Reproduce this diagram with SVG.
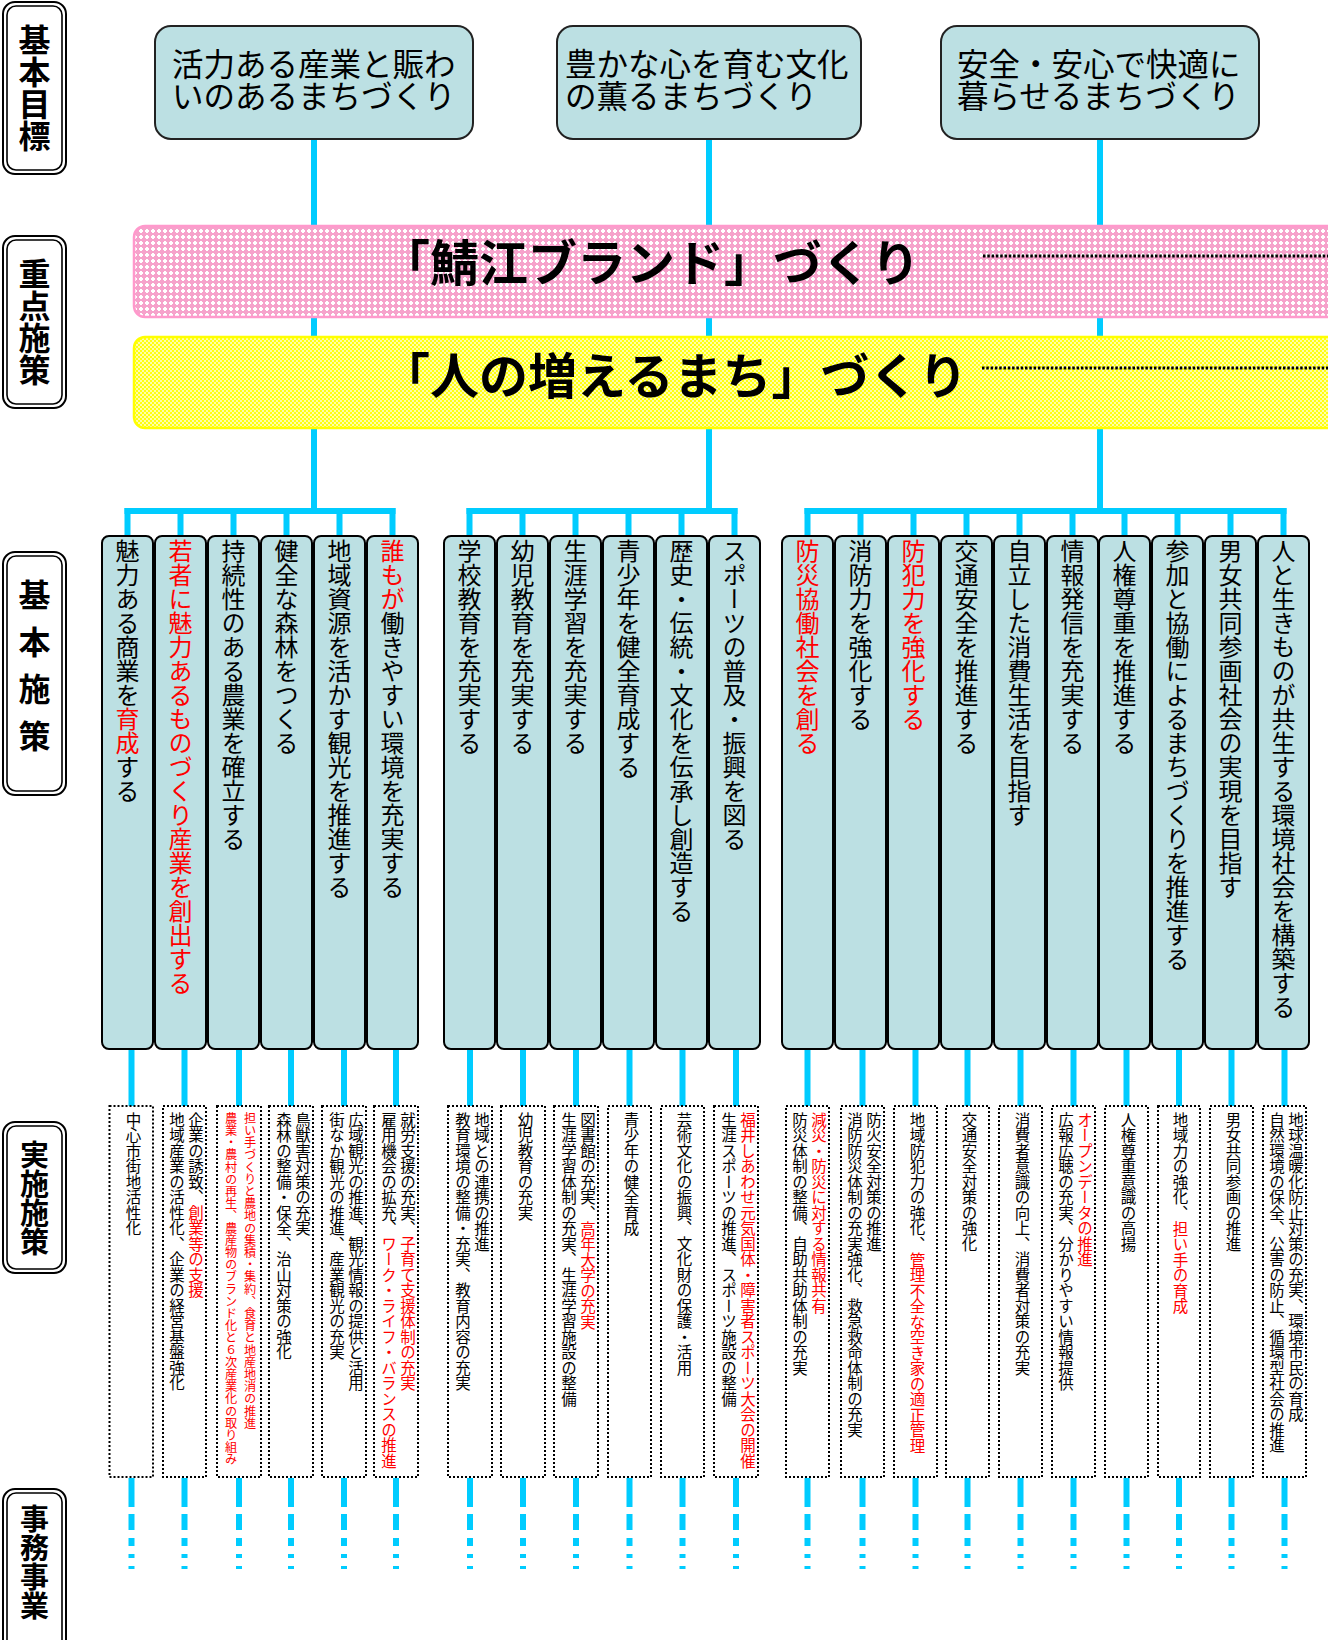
<svg xmlns="http://www.w3.org/2000/svg" width="1328" height="1640" viewBox="0 0 1328 1640">
<defs>
<pattern id="pk" width="6" height="6" patternUnits="userSpaceOnUse">
<rect width="6" height="6" fill="#F6A2CB"/>
<rect x="2" y="1" width="2" height="4" fill="#FFFFFF"/>
<rect x="1" y="2" width="4" height="2" fill="#FFFFFF"/>
</pattern>
<pattern id="yl" width="4" height="4" patternUnits="userSpaceOnUse">
<rect width="4" height="4" fill="#FFFF10"/>
<rect width="2" height="2" fill="#FFFFA8"/>
<rect x="2" y="2" width="2" height="2" fill="#FFFFA8"/>
</pattern>
</defs>
<style>
text{font-family:"Noto Sans CJK JP","Noto Sans CJK SC",sans-serif;fill:#000}
.v{writing-mode:vertical-rl}
.lab rect.o{fill:#fff;stroke:#000;stroke-width:2}
.lab rect.i{fill:none;stroke:#000;stroke-width:1.6}
.lab text{font-size:32px;font-weight:bold}
.goal rect{fill:#BCE0E3;stroke:#222;stroke-width:2}
.goal text{font-size:31.5px}
.col rect{fill:#BCE0E3;stroke:#000;stroke-width:2}
.col text{font-size:24px}
.mea rect{fill:none;stroke:#000;stroke-width:2;stroke-dasharray:2 2}
.mea text{font-size:15.5px}
.mea text.s{font-size:12.2px}
.r{fill:#FF0000}
.band text{font-size:49px;font-weight:bold}
.cn line,.cn path{stroke:#00CCFF;stroke-width:6;fill:none}
.cn line.d{stroke-dasharray:29 7 16 8 8 8 4 8 3 60}
.dots{stroke:#000;stroke-width:3;stroke-dasharray:2.5 1.8}
</style>
<rect width="1328" height="1640" fill="#fff"/>

<g id="connectors" class="cn">
<line x1="314" y1="139" x2="314" y2="514"/>
<line x1="709" y1="139" x2="709" y2="514"/>
<line x1="1100" y1="139" x2="1100" y2="514"/>
<line x1="124.5" y1="511" x2="395.5" y2="511"/>
<line x1="466.5" y1="511" x2="737.5" y2="511"/>
<line x1="804.5" y1="511" x2="1286.5" y2="511"/>
<path d="M127.5 508V537M180.5 508V537M233.5 508V537M286.5 508V537M339.5 508V537M392.5 508V537M469.5 508V537M522.5 508V537M575.5 508V537M628.5 508V537M681.5 508V537M734.5 508V537M807.5 508V537M860.5 508V537M913.5 508V537M966.5 508V537M1019.5 508V537M1072.5 508V537M1124.5 508V537M1177.5 508V537M1230.5 508V537M1283.5 508V537"/>
<path d="M131.5 1049V1106M184.5 1049V1106M239 1049V1106M291 1049V1106M344 1049V1106M396 1049V1106M470 1049V1106M523 1049V1106M576 1049V1106M629.5 1049V1106M682.5 1049V1106M736 1049V1106M807.5 1049V1106M862.5 1049V1106M915.5 1049V1106M967.5 1049V1106M1020.5 1049V1106M1073.5 1049V1106M1126.5 1049V1106M1179 1049V1106M1231.5 1049V1106M1284.5 1049V1106"/>
<line class="d" x1="131.5" y1="1478" x2="131.5" y2="1570"/>
<line class="d" x1="184.5" y1="1478" x2="184.5" y2="1570"/>
<line class="d" x1="239" y1="1478" x2="239" y2="1570"/>
<line class="d" x1="291" y1="1478" x2="291" y2="1570"/>
<line class="d" x1="344" y1="1478" x2="344" y2="1570"/>
<line class="d" x1="396" y1="1478" x2="396" y2="1570"/>
<line class="d" x1="470" y1="1478" x2="470" y2="1570"/>
<line class="d" x1="523" y1="1478" x2="523" y2="1570"/>
<line class="d" x1="576" y1="1478" x2="576" y2="1570"/>
<line class="d" x1="629.5" y1="1478" x2="629.5" y2="1570"/>
<line class="d" x1="682.5" y1="1478" x2="682.5" y2="1570"/>
<line class="d" x1="736" y1="1478" x2="736" y2="1570"/>
<line class="d" x1="807.5" y1="1478" x2="807.5" y2="1570"/>
<line class="d" x1="862.5" y1="1478" x2="862.5" y2="1570"/>
<line class="d" x1="915.5" y1="1478" x2="915.5" y2="1570"/>
<line class="d" x1="967.5" y1="1478" x2="967.5" y2="1570"/>
<line class="d" x1="1020.5" y1="1478" x2="1020.5" y2="1570"/>
<line class="d" x1="1073.5" y1="1478" x2="1073.5" y2="1570"/>
<line class="d" x1="1126.5" y1="1478" x2="1126.5" y2="1570"/>
<line class="d" x1="1179" y1="1478" x2="1179" y2="1570"/>
<line class="d" x1="1231.5" y1="1478" x2="1231.5" y2="1570"/>
<line class="d" x1="1284.5" y1="1478" x2="1284.5" y2="1570"/>
</g>

<g class="lab">
<g id="lab-goal"><rect class="o" x="3" y="2" width="63" height="172" rx="12"/><rect class="i" x="7" y="6" width="55" height="164" rx="9"/><text class="v" x="34.5" y="88" text-anchor="middle">基本目標</text></g>
<g id="lab-focus"><rect class="o" x="3" y="236" width="63" height="172" rx="12"/><rect class="i" x="7" y="240" width="55" height="164" rx="9"/><text class="v" x="34.5" y="322" text-anchor="middle">重点施策</text></g>
<g id="lab-basic"><rect class="o" x="3" y="552" width="63" height="243" rx="12"/><rect class="i" x="7" y="556" width="55" height="235" rx="9"/><text class="v" x="34.5" y="673" text-anchor="middle" letter-spacing="15">基本施策</text></g>
<g id="lab-impl"><rect class="o" x="3" y="1122" width="63" height="151" rx="12"/><rect class="i" x="7" y="1126" width="55" height="143" rx="9"/><text class="v" x="34.5" y="1198" text-anchor="middle" style="font-size:29px">実施施策</text></g>
<g id="lab-work"><rect class="o" x="3" y="1489" width="63" height="180" rx="12"/><rect class="i" x="7" y="1493" width="55" height="172" rx="9"/><text class="v" x="34.5" y="1562" text-anchor="middle" style="font-size:29px">事務事業</text></g>
</g>

<g class="goal">
<g id="goal-1"><rect x="155" y="26" width="318" height="113" rx="16"/><text><tspan x="172" y="76">活力ある産業と賑わ</tspan><tspan x="172" y="108">いのあるまちづくり</tspan></text></g>
<g id="goal-2"><rect x="557" y="26" width="304" height="113" rx="16"/><text><tspan x="565" y="76">豊かな心を育む文化</tspan><tspan x="565" y="108">の薫るまちづくり</tspan></text></g>
<g id="goal-3"><rect x="941" y="26" width="318" height="113" rx="16"/><text><tspan x="957" y="76">安全・安心で快適に</tspan><tspan x="957" y="108">暮らせるまちづくり</tspan></text></g>
</g>

<g class="band">
<g id="band-sabae"><rect x="134" y="226" width="1220" height="91" rx="11" fill="url(#pk)" stroke="#FF99CC" stroke-width="2.5"/><text x="381" y="281">「鯖江ブランド」づくり</text><line class="dots" x1="983" y1="256" x2="1328" y2="256"/></g>
<g id="band-people"><rect x="134" y="337" width="1220" height="91" rx="11" fill="url(#yl)" stroke="#FFFF00" stroke-width="2.5"/><text x="381" y="394">「人の増えるまち」づくり</text><line class="dots" x1="982" y1="368" x2="1328" y2="368"/></g>
</g>

<g class="col">
<g id="c1"><rect x="102" y="536" width="51" height="513" rx="7"/><text class="v" x="127.5" y="539">魅力ある商業を<tspan class="r">育成</tspan>する</text></g>
<g id="c2"><rect x="155" y="536" width="51" height="513" rx="7"/><text class="v r" x="180.5" y="539">若者に魅力あるものづくり産業を創出する</text></g>
<g id="c3"><rect x="208" y="536" width="51" height="513" rx="7"/><text class="v" x="233.5" y="539">持続性のある農業を確立する</text></g>
<g id="c4"><rect x="261" y="536" width="51" height="513" rx="7"/><text class="v" x="286.5" y="539">健全な森林をつくる</text></g>
<g id="c5"><rect x="314" y="536" width="51" height="513" rx="7"/><text class="v" x="339.5" y="539">地域資源を活かす観光を推進する</text></g>
<g id="c6"><rect x="367" y="536" width="51" height="513" rx="7"/><text class="v" x="392.5" y="539"><tspan class="r">誰もが</tspan>働きやすい環境を充実する</text></g>
<g id="c7"><rect x="444" y="536" width="51" height="513" rx="7"/><text class="v" x="469.5" y="539">学校教育を充実する</text></g>
<g id="c8"><rect x="497" y="536" width="51" height="513" rx="7"/><text class="v" x="522.5" y="539">幼児教育を充実する</text></g>
<g id="c9"><rect x="550" y="536" width="51" height="513" rx="7"/><text class="v" x="575.5" y="539">生涯学習を充実する</text></g>
<g id="c10"><rect x="603" y="536" width="51" height="513" rx="7"/><text class="v" x="628.5" y="539">青少年を健全育成する</text></g>
<g id="c11"><rect x="656" y="536" width="51" height="513" rx="7"/><text class="v" x="681.5" y="539">歴史・伝統・文化を伝承し創造する</text></g>
<g id="c12"><rect x="709" y="536" width="51" height="513" rx="7"/><text class="v" x="734.5" y="539">スポーツの普及・振興を図る</text></g>
<g id="c13"><rect x="782" y="536" width="51" height="513" rx="7"/><text class="v r" x="807.5" y="539">防災協働社会を創る</text></g>
<g id="c14"><rect x="835" y="536" width="51" height="513" rx="7"/><text class="v" x="860.5" y="539">消防力を強化する</text></g>
<g id="c15"><rect x="888" y="536" width="51" height="513" rx="7"/><text class="v r" x="913.5" y="539">防犯力を強化する</text></g>
<g id="c16"><rect x="941" y="536" width="51" height="513" rx="7"/><text class="v" x="966.5" y="539">交通安全を推進する</text></g>
<g id="c17"><rect x="994" y="536" width="51" height="513" rx="7"/><text class="v" x="1019.5" y="539">自立した消費生活を目指す</text></g>
<g id="c18"><rect x="1047" y="536" width="51" height="513" rx="7"/><text class="v" x="1072.5" y="539">情報発信を充実する</text></g>
<g id="c19"><rect x="1099" y="536" width="51" height="513" rx="7"/><text class="v" x="1124.5" y="539">人権尊重を推進する</text></g>
<g id="c20"><rect x="1152" y="536" width="51" height="513" rx="7"/><text class="v" x="1177.5" y="539">参加と協働によるまちづくりを推進する</text></g>
<g id="c21"><rect x="1205" y="536" width="51" height="513" rx="7"/><text class="v" x="1230.5" y="539">男女共同参画社会の実現を目指す</text></g>
<g id="c22"><rect x="1258" y="536" width="51" height="513" rx="7"/><text class="v" x="1283.5" y="539">人と生きものが共生する環境社会を構築する</text></g>
</g>

<g class="mea">
<g id="m1"><rect x="109.5" y="1106" width="43.5" height="371"/><text class="v" x="133.5" y="1112">中心市街地活性化</text></g>
<g id="m2"><rect x="163" y="1106" width="43" height="371"/><text class="v" x="196" y="1112">企業の誘致、<tspan class="r">創業等の支援</tspan></text><text class="v" x="177" y="1112">地域産業の活性化、企業の経営基盤強化</text></g>
<g id="m3"><rect x="217" y="1106" width="44" height="371"/><text class="v s r" x="250" y="1112">担い手づくりと農地の集積・集約、食育と地産地消の推進</text><text class="v s r" x="231" y="1112">農業・農村の再生、農産物のブランド化と６次産業化の取り組み</text></g>
<g id="m4"><rect x="269" y="1106" width="44" height="371"/><text class="v" x="303" y="1112">鳥獣害対策の充実</text><text class="v" x="284" y="1112">森林の整備・保全、治山対策の強化</text></g>
<g id="m5"><rect x="322" y="1106" width="44" height="371"/><text class="v" x="356" y="1112">広域観光の推進、観光情報の提供と活用</text><text class="v" x="337" y="1112">街なか観光の推進、産業観光の充実</text></g>
<g id="m6"><rect x="374" y="1106" width="44" height="371"/><text class="v" x="408" y="1112">就労支援の充実、<tspan class="r">子育て支援体制の充実</tspan></text><text class="v" x="389" y="1112">雇用機会の拡充、<tspan class="r">ワーク・ライフ・バランスの推進</tspan></text></g>
<g id="m7"><rect x="448" y="1106" width="44" height="371"/><text class="v" x="482" y="1112">地域との連携の推進</text><text class="v" x="463" y="1112">教育環境の整備・充実、教育内容の充実</text></g>
<g id="m8"><rect x="501" y="1106" width="44" height="371"/><text class="v" x="525.5" y="1112">幼児教育の充実</text></g>
<g id="m9"><rect x="554" y="1106" width="44" height="371"/><text class="v" x="588" y="1112">図書館の充実、<tspan class="r">高年大学の充実</tspan></text><text class="v" x="569" y="1112">生涯学習体制の充実、生涯学習施設の整備</text></g>
<g id="m10"><rect x="608" y="1106" width="43" height="371"/><text class="v" x="631.5" y="1112">青少年の健全育成</text></g>
<g id="m11"><rect x="661" y="1106" width="43" height="371"/><text class="v" x="684.5" y="1112">芸術文化の振興、文化財の保護・活用</text></g>
<g id="m12"><rect x="714" y="1106" width="44" height="371"/><text class="v r" x="748" y="1112">福井しあわせ元気国体・障害者スポーツ大会の開催</text><text class="v" x="729" y="1112">生涯スポーツの推進、スポーツ施設の整備</text></g>
<g id="m13"><rect x="786" y="1106" width="43" height="371"/><text class="v r" x="819" y="1112">減災・防災に対する情報共有</text><text class="v" x="800" y="1112">防災体制の整備、自助共助体制の充実</text></g>
<g id="m14"><rect x="841" y="1106" width="43" height="371"/><text class="v" x="874" y="1112">防火安全対策の推進</text><text class="v" x="855" y="1112">消防防災体制の充実強化、救急救命体制の充実</text></g>
<g id="m15"><rect x="894" y="1106" width="43" height="371"/><text class="v" x="917.5" y="1112">地域防犯力の強化、<tspan class="r">管理不全な空き家の適正管理</tspan></text></g>
<g id="m16"><rect x="946" y="1106" width="43" height="371"/><text class="v" x="969.5" y="1112">交通安全対策の強化</text></g>
<g id="m17"><rect x="999" y="1106" width="43" height="371"/><text class="v" x="1022.5" y="1112">消費者意識の向上、消費者対策の充実</text></g>
<g id="m18"><rect x="1052" y="1106" width="43" height="371"/><text class="v r" x="1085" y="1112">オープンデータの推進</text><text class="v" x="1066" y="1112">広報広聴の充実、分かりやすい情報提供</text></g>
<g id="m19"><rect x="1105" y="1106" width="43" height="371"/><text class="v" x="1128.5" y="1112">人権尊重意識の高揚</text></g>
<g id="m20"><rect x="1158" y="1106" width="42" height="371"/><text class="v" x="1180.5" y="1112">地域力の強化、<tspan class="r">担い手の育成</tspan></text></g>
<g id="m21"><rect x="1210" y="1106" width="43" height="371"/><text class="v" x="1233.5" y="1112">男女共同参画の推進</text></g>
<g id="m22"><rect x="1263" y="1106" width="43" height="371"/><text class="v" x="1296" y="1112">地球温暖化防止対策の充実、環境市民の育成</text><text class="v" x="1277" y="1112">自然環境の保全、公害の防止、循環型社会の推進</text></g>
</g>
</svg>
